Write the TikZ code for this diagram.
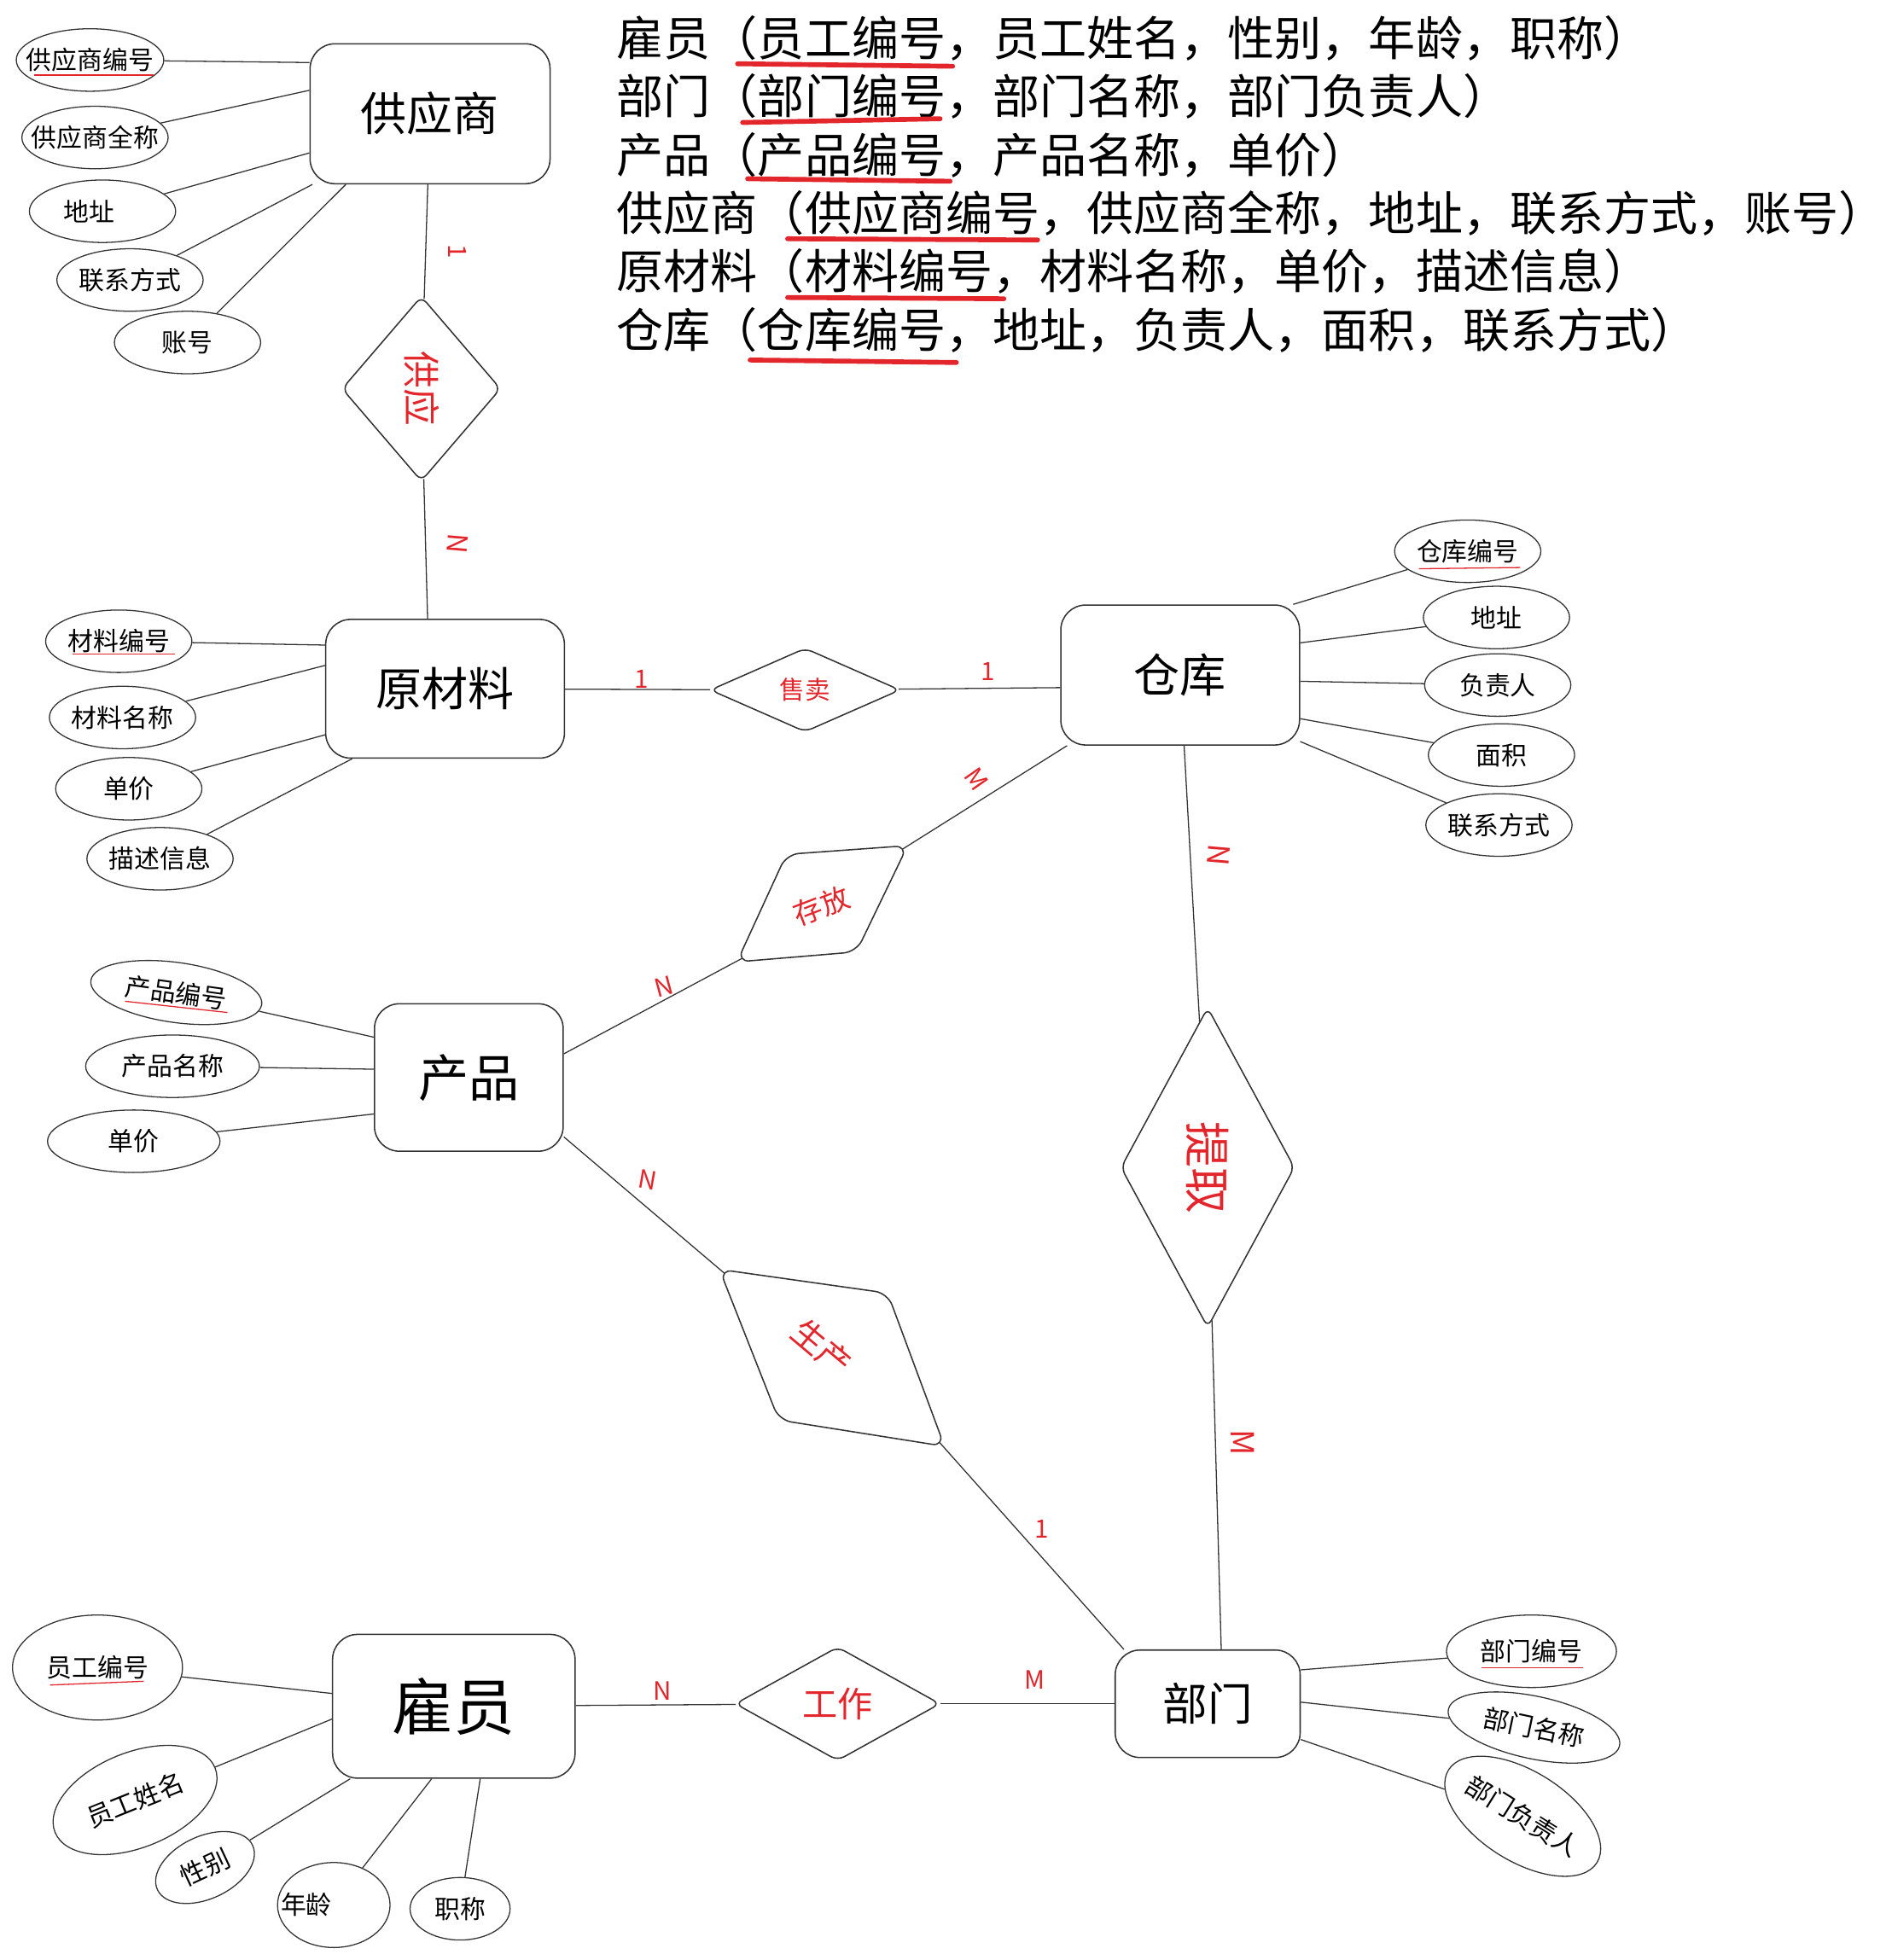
\documentclass[tikz,border=0pt]{standalone}
\usepackage{fontspec}
\setmainfont{Noto Sans CJK SC}
\usetikzlibrary{shapes.geometric, calc}
\definecolor{edge}{HTML}{333333}
\definecolor{hand}{HTML}{E3262B}

\begin{document}
\begin{tikzpicture}[x=0.02cm, y=-0.02cm]

    % Set the canvas size
    \useasboundingbox (0,0) rectangle (1513,1568);

    % Define styles
    \tikzset{
        entity/.style={draw=edge, rounded corners=0.4cm, line width=0.6pt, inner sep=0pt},
        attr/.style={draw=edge, ellipse, line width=0.5pt, inner sep=0pt,
            minimum width=2.34cm, minimum height=1cm,
            font=\fontsize{11.6}{12}\selectfont,
            execute at begin node={\hbox to 0pt\bgroup\hss},
            execute at end node={\hss\egroup}},
        rel/.style={draw=edge, diamond, rounded corners=0.12cm, line width=0.6pt, inner sep=0pt, text=hand},
        rim/.style={draw=edge, line width=0.6pt, rounded corners=0.2cm},
        link/.style={edge, line width=0.5pt},
        card/.style={text=hand, inner sep=0pt, font=\fontsize{11.5}{11.5}\selectfont},
        keyline/.style={hand, line width=2.2pt, line cap=round},
        keythin/.style={hand, line width=0.5pt},
        schema/.style={anchor=west, inner sep=0pt, font=\fontsize{21.4}{21.4}\selectfont},
    }

    % Relational schema
    \node[schema] (t1) at (493,30.5) {雇员（员工编号，员工姓名，性别，年龄，职称）};
    \node[schema] (t2) at (493,77) {部门（部门编号，部门名称，部门负责人）};
    \node[schema] (t3) at (493,124) {产品（产品编号，产品名称，单价）};
    \node[schema] (t4) at (493,170.5) {供应商（供应商编号，供应商全称，地址，联系方式，账号）};
    \node[schema] (t5) at (493,217) {原材料（材料编号，材料名称，单价，描述信息）};
    \node[schema] (t6) at (493,264) {仓库（仓库编号，地址，负责人，面积，联系方式）};
    \draw[keyline] (590,51) -- (762,53);
    \draw[keyline] (594,98) -- (752,95);
    \draw[keyline] (598,143) -- (760,145);
    \draw[keyline] (630,191) -- (830,192);
    \draw[keyline] (630,238) -- (803,239);
    \draw[keyline] (600,288) -- (765,290);

    % Entity sets
    \node[entity, minimum width=3.84cm, minimum height=2.24cm, font=\fontsize{21}{21}\selectfont] (gys) at (344,91) {供应商};
    \node[entity, minimum width=3.82cm, minimum height=2.22cm, font=\fontsize{21}{21}\selectfont] (ycl) at (356,551) {原材料};
    \node[entity, minimum width=3.82cm, minimum height=2.24cm, font=\fontsize{21}{21}\selectfont] (ck) at (944,540) {仓库};
    \node[entity, minimum width=3.02cm, minimum height=2.36cm, font=\fontsize{23}{23}\selectfont] (cp) at (375,862) {产品};
    \node[entity, minimum width=3.88cm, minimum height=2.30cm, font=\fontsize{28}{28}\selectfont] (gy) at (363,1365) {雇员};
    \node[entity, minimum width=2.96cm, minimum height=1.72cm, font=\fontsize{20.4}{20.4}\selectfont] (bm) at (966,1363) {部门};

    % Relationships
    \node[rel, rotate=-90, minimum width=2.96cm, minimum height=2.54cm, font=\fontsize{17}{17}\selectfont] (gongying) at (337,311) {供应};
    \node[rel, minimum width=3.04cm, minimum height=1.34cm, font=\fontsize{11.5}{11.5}\selectfont] (shoumai) at (644,552) {售卖};
    \node[rel, rotate=-90, minimum width=5.12cm, minimum height=2.78cm, font=\fontsize{21}{21}\selectfont] (tiqu) at (966,934) {提取};
    \node[rel, minimum width=3.28cm, minimum height=1.82cm, font=\fontsize{16}{16}\selectfont] (gongzuo) at (670,1363) {工作};

    % Skewed relationships
    \coordinate (cfTR) at (726,676.5);
    \coordinate (cfBR) at (685,761.5);
    \coordinate (cfBL) at (589.5,769.5);
    \coordinate (cfTL) at (629,683.5);
    \draw[rim] (cfTR) -- (cfBR) -- (cfBL) -- (cfTL) -- cycle;
    \node[text=hand, rotate=21, font=\fontsize{13}{13}\selectfont] (cunfang) at (657,725) {存放};
    \coordinate (cfTRin) at ($(cfTR)!3pt!(cfBL)$);
    \coordinate (cfBLin) at ($(cfBL)!3pt!(cfTR)$);

    \coordinate (scTL) at (575.5,1015.5);
    \coordinate (scTR) at (710,1034.5);
    \coordinate (scBR) at (755.5,1157);
    \coordinate (scBL) at (623,1136);
    \draw[rim] (scTL) -- (scTR) -- (scBR) -- (scBL) -- cycle;
    \node[text=hand, rotate=-40, font=\fontsize{15}{15}\selectfont] (shengchan) at (657.5,1078) {生产};
    \coordinate (scTLin) at ($(scTL)!3pt!(scBR)$);
    \coordinate (scBRin) at ($(scBR)!3pt!(scTL)$);

    % Relationship links
    \draw[link] (gys) -- (gongying);
    \draw[link] (gongying) -- (ycl.104);
    \draw[link] (ycl) -- (shoumai);
    \draw[link] (shoumai) -- (ck.186);
    \draw[link] (ck.212) -- (cfTRin);
    \draw[link] (cfBLin) -- (cp.14);
    \draw[link] (ck) -- (tiqu);
    \draw[link] (tiqu) -- (bm.76);
    \draw[link] (cp.-32) -- (scTLin);
    \draw[link] (scBRin) -- (bm.147);
    \draw[link] (gy) -- (gongzuo);
    \draw[link] (gongzuo) -- (bm);

    % Cardinalities
    \node[card, rotate=-90] (c1) at (366,201) {1};
    \node[card, rotate=-95, font=\fontsize{12.5}{12.5}\selectfont] (c2) at (366,435) {N};
    \node[card] (c3) at (513,543) {1};
    \node[card] (c4) at (790,537) {1};
    \node[card, rotate=-55] (c5) at (781,623) {M};
    \node[card, rotate=15] (c6) at (531,789) {N};
    \node[card, rotate=-95, font=\fontsize{13.5}{13.5}\selectfont] (c7) at (975,684) {N};
    \node[card, rotate=-90, font=\fontsize{14.5}{14.5}\selectfont] (c8) at (994,1154) {M};
    \node[card, rotate=-10] (c9) at (518,944) {N};
    \node[card] (c10) at (833,1223) {1};
    \node[card] (c11) at (530,1353) {N};
    \node[card] (c12) at (828,1344) {M};

    % Attributes of the supplier
    \node[attr, minimum width=2.36cm] (gysbh) at (72,48) {供应商编号};
    \node[attr] (gysqc) at (76,110) {供应商全称};
    \node[attr] (gysdz) at (82,169) {地址\kern0.42cm};
    \node[attr] (gyslx) at (104,224) {联系方式};
    \node[attr] (gyszh) at (150,274) {账号};
    \draw[keythin] (27,60) -- (123,60);
    \draw[link] (gysbh) -- (gys.157);
    \draw[link] (gysqc) -- (gys.169);
    \draw[link] (gysdz) -- (gys.198);
    \draw[link] (gyslx) -- (gys.211);
    \draw[link] (gyszh) -- (gys.220);

    % Attributes of the raw material
    \node[attr] (yclbh) at (95,513) {材料编号};
    \node[attr] (yclmc) at (98,574) {材料名称};
    \node[attr] (ycldj) at (103,631) {单价};
    \node[attr] (yclms) at (128,687) {描述信息};
    \draw[keythin] (58,523) -- (140,523);
    \draw[link] (yclbh) -- (ycl.160);
    \draw[link] (yclmc) -- (ycl.169);
    \draw[link] (ycldj) -- (ycl.201);
    \draw[link] (yclms) -- (ycl.217);

    % Attributes of the warehouse
    \node[attr] (ckbh) at (1174,441) {仓库编号};
    \node[attr] (ckdz) at (1197,494) {地址};
    \node[attr] (ckfz) at (1198,548) {负责人};
    \node[attr] (ckmj) at (1201,604) {面积};
    \node[attr] (cklx) at (1199,660) {联系方式};
    \draw[keythin] (1135,455) -- (1216,454);
    \draw[link] (ck.32) -- (ckbh);
    \draw[link] (ck.15) -- (ckdz);
    \draw[link] (ck.-3) -- (ckfz);
    \draw[link] (ck.-20) -- (ckmj);
    \draw[link] (ck.-29) -- (cklx);

    % Attributes of the product
    \node[attr, rotate=-8, minimum width=2.76cm, minimum height=0.96cm] (cpbh) at (141,794) {产品编号};
    \node[attr, minimum width=2.78cm] (cpmc) at (138,853) {产品名称};
    \node[attr, minimum width=2.76cm] (cpdj) at (107,913) {单价};
    \draw[keythin] (100,801) -- (182,810);
    \draw[link] (cpbh) -- (cp.157);
    \draw[link] (cpmc) -- (cp.175);
    \draw[link] (cpdj) -- (cp.201);

    % Attributes of the employee
    \node[attr, minimum width=2.72cm, minimum height=1.68cm] (gybh) at (78,1334) {员工编号};
    \node[attr, rotate=22, minimum width=2.76cm, minimum height=1.52cm] (gyxm) at (108,1440) {员工姓名};
    \node[attr, rotate=25, minimum width=1.68cm, minimum height=1cm] (gyxb) at (164,1494) {性别};
    \node[attr, minimum width=1.8cm, minimum height=1.36cm] (gynl) at (267,1524) {年龄\kern0.88cm};
    \node[attr, minimum width=1.6cm, minimum height=1cm] (gyzc) at (368,1527) {职称};
    \draw[keythin] (40,1348) -- (115,1345);
    \draw[link] (gybh) -- (gy.174);
    \draw[link] (gyxm) -- (gy.186);
    \draw[link] (gyxb) -- (gy.215);
    \draw[link] (gynl) -- (gy.253);
    \draw[link] (gyzc) -- (gy.290);

    % Attributes of the department
    \node[attr, minimum width=2.72cm, minimum height=1.16cm] (bmbh) at (1225,1321) {部门编号};
    \node[attr, rotate=-12, minimum width=2.8cm, minimum height=1cm] (bmmc) at (1227,1382) {部门名称};
    \node[attr, rotate=-32, minimum width=2.8cm, minimum height=1.44cm] (bmfz) at (1218,1453) {部门负责人};
    \draw[keythin] (1185,1334) -- (1266,1334);
    \draw[link] (bm.20) -- (bmbh);
    \draw[link] (bm.1) -- (bmmc);
    \draw[link] (bm.-21) -- (bmfz);

\end{tikzpicture}
\end{document}
